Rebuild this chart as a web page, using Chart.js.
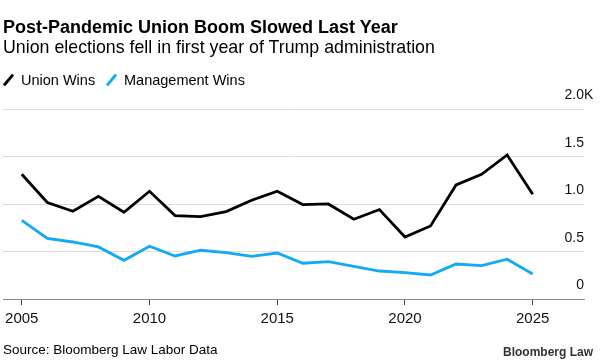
<!DOCTYPE html>
<html>
<head>
<meta charset="utf-8">
<script src="https://cdn.jsdelivr.net/npm/chart.js@4"></script>
<style>
  html, body { margin: 0; padding: 0; background: #fff; }
  body { width: 609px; height: 362px; position: relative; overflow: hidden; font-family: "Liberation Sans", Arial, sans-serif; color: #000; }
  #chart { position: absolute; left: 0; top: 0; }
  .txt { position: absolute; white-space: nowrap; }
  #title { left: 3px; top: 18px; font-size: 18px; line-height: 18px; font-weight: bold; }
  #subtitle { left: 3px; top: 39.3px; font-size: 17.8px; line-height: 17.8px; }
  #legend { left: 0; top: 72.5px; font-size: 14.5px; line-height: 14.5px; }
  .item { position: absolute; top: 0; }
  .sw { position: absolute; top: 0.5px; width: 3px; height: 14px; transform: rotate(40deg); }
  #source { left: 3px; top: 343px; font-size: 13.5px; line-height: 13.5px; }
  #logo { right: 16px; top: 345.5px; font-size: 12px; line-height: 12px; font-weight: bold; color: #333; }
</style>
</head>
<body>
<canvas id="chart" width="609" height="362"></canvas>
<div class="txt" id="title">Post-Pandemic Union Boom Slowed Last Year</div>
<div class="txt" id="subtitle">Union elections fell in first year of Trump administration</div>
<div class="txt" id="legend">
  <span class="sw" style="left:7px;background:#000"></span>
  <span class="item" style="left:21px">Union Wins</span>
  <span class="sw" style="left:110px;background:#12a9f7"></span>
  <span class="item" style="left:124px">Management Wins</span>
</div>
<div class="txt" id="source">Source: Bloomberg Law Labor Data</div>
<div class="txt" id="logo">Bloomberg Law</div>
<script>
// years and election counts
const years = [2005, 2006, 2007, 2008, 2009, 2010, 2011, 2012, 2013, 2014, 2015,
               2016, 2017, 2018, 2019, 2020, 2021, 2022, 2023, 2024, 2025];
const unionWins = [1315, 1017, 925, 1083, 915, 1136, 880, 869, 922, 1041, 1136,
                   996, 1002, 841, 943, 654, 770, 1203, 1315, 1519, 1104];
const managementWins = [830, 640, 601, 549, 408, 556, 454, 514, 489, 450, 485,
                        377, 394, 345, 295, 278, 253, 369, 352, 419, 264];
const xTicks = [2005, 2010, 2015, 2020, 2025];
const yTicks = [0, 500, 1000, 1500, 2000];
const yTickLabels = ["0", "0.5", "1.0", "1.5", "2.0"];

const ctx = document.getElementById("chart").getContext("2d");

// y labels sit above the gridlines, right aligned at the end of the grid
const yLabelPlugin = {
    id: "yLabels",
    afterDraw(chart) {
        const y = chart.scales.y;
        const right = chart.chartArea.right;
        const c = chart.ctx;
        c.save();
        c.font = "14px 'Liberation Sans', Arial, sans-serif";
        c.fillStyle = "#111";
        c.textBaseline = "alphabetic";
        yTicks.forEach((v, i) => {
            const py = y.getPixelForValue(v) - 10;
            c.textAlign = "right";
            c.fillText(yTickLabels[i], right, py);
            if (v === 2000) {
                c.textAlign = "left";
                c.fillText("K", right, py);
            }
        });
        c.restore();
    }
};

new Chart(ctx, {
    type: "line",
    data: {
        datasets: [{
            label: "Union Wins",
            data: years.map((yr, i) => ({ x: yr, y: unionWins[i] })),
            borderColor: "#000",
            borderWidth: 2.8,
            pointRadius: 0,
            tension: 0,
            borderJoinStyle: "miter"
        }, {
            label: "Management Wins",
            data: years.map((yr, i) => ({ x: yr, y: managementWins[i] })),
            borderColor: "#12a9f7",
            borderWidth: 2.8,
            pointRadius: 0,
            tension: 0,
            borderJoinStyle: "miter"
        }]
    },
    options: {
        responsive: false,
        animation: false,
        layout: { padding: { left: 3, right: 25, top: 109.3, bottom: 33 } },
        plugins: {
            legend: { display: false },
            tooltip: { enabled: false }
        },
        scales: {
            x: {
                type: "linear",
                min: 2004.268,
                max: 2027.008,
                afterBuildTicks: s => { s.ticks = xTicks.map(v => ({ value: v })); },
                afterFit: s => { s.height = 30; },
                grid: { drawOnChartArea: false, drawTicks: true, tickLength: 6, color: "#444" },
                border: { display: true, color: "#888", width: 1 },
                ticks: {
                    padding: 5,
                    color: "#111",
                    font: { family: "'Liberation Sans', Arial, sans-serif", size: 15 },
                    callback: v => String(v)
                }
            },
            y: {
                position: "right",
                min: 0,
                max: 2000,
                afterBuildTicks: s => { s.ticks = yTicks.map(v => ({ value: v })); },
                afterFit: s => { s.width = 0; },
                grid: {
                    drawTicks: false,
                    color: c => c.tick && c.tick.value === 0 ? "rgba(0,0,0,0)" : "#dcdcdc",
                    lineWidth: 1
                },
                border: { display: false },
                ticks: { display: false }
            }
        }
    },
    plugins: [yLabelPlugin]
});
</script>
</body>
</html>
